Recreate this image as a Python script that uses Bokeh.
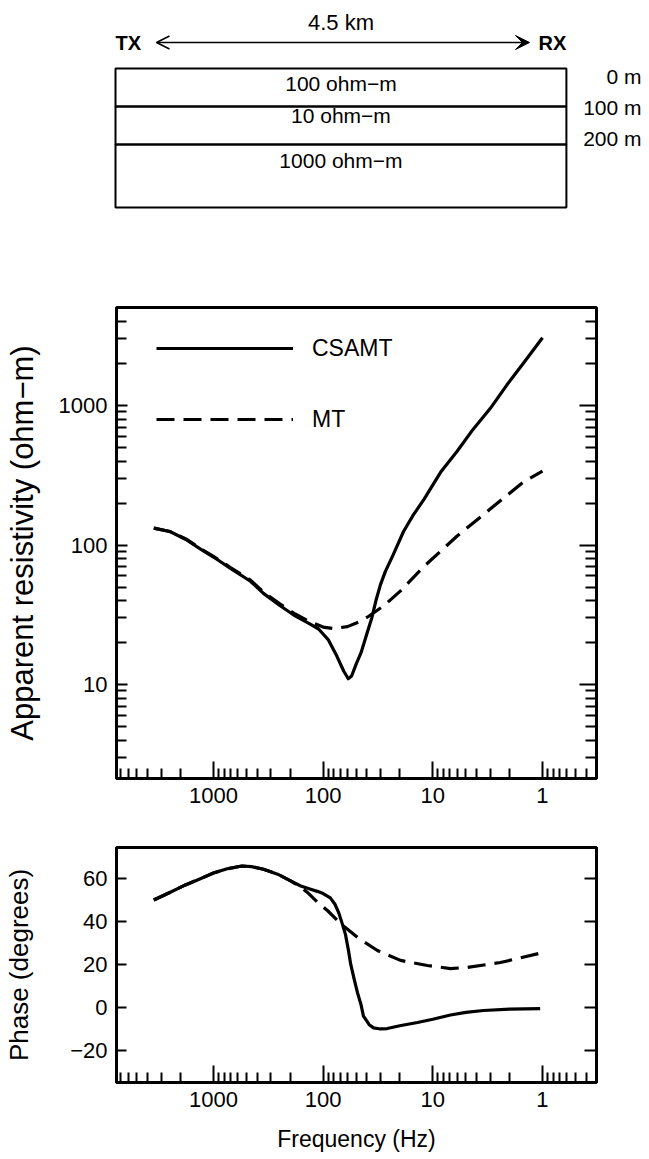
from bokeh.plotting import figure
from bokeh.layouts import column
from bokeh.models import (Range1d, FixedTicker, LogAxis, LinearAxis, Arrow, OpenHead, VeeHead,
                          PrintfTickFormatter, Legend, LegendItem)
from bokeh.core.properties import value
from bokeh.embed import file_html
from bokeh.resources import INLINE

FONT = "Liberation Sans"

# ---------------- data ----------------
# Layered earth model
separation_km = 4.5
layer_tops_m = [0, 100, 200]
layer_bottoms_m = [100, 200, 366]
layer_labels = ["100 ohm\u2212m", "10 ohm\u2212m", "1000 ohm\u2212m"]
depth_labels = ["0 m", "100 m", "200 m"]

# Apparent resistivity (ohm-m) vs frequency (Hz)
freq_rho_csamt = [3500, 2500, 1800, 1300, 1000, 700, 460, 350, 250, 180, 130, 110, 90, 75, 65, 59, 55,
                  50, 45, 40, 36, 33, 30, 27, 23, 18.5, 15, 12, 8.5, 6, 4.3, 3, 2.1, 1.5, 1.0]
rho_csamt = [132, 125, 110, 93, 82, 68, 55, 45, 37, 31, 27, 25, 21, 16, 12.5, 11, 11.5,
             14, 17, 23, 30, 40, 52, 65, 85, 125, 165, 213, 332, 470, 674, 950, 1413, 2000, 3060]

freq_rho_mt = [3500, 2500, 1800, 1300, 1000, 700, 460, 350, 250, 180, 130, 100, 80, 60, 45, 39,
               28, 19.7, 12.2, 6, 3, 1.5, 1.0]
rho_mt = [132, 125, 111, 94, 83, 69, 56, 46, 38, 32, 28, 25.8, 25.2, 26, 28.5, 30.6,
          36.7, 46.9, 69.6, 116, 181, 282, 338]

# Phase (degrees) vs frequency (Hz)
freq_ph_csamt = [3500, 2500, 1800, 1300, 1000, 750, 550, 450, 350, 260, 200, 160, 130, 113, 100, 86,
                 78, 72, 67, 62.6, 59, 56, 52, 48.7, 45, 42.9, 38, 34.7, 30, 26, 20, 13.8, 10,
                 6.9, 5, 3.46, 2, 1.05]
ph_csamt = [50, 53.5, 57, 60, 62.5, 64.5, 65.8, 65.5, 64.3, 62, 59, 56.5, 55, 54, 53, 51,
            48, 44, 39, 34, 27, 20, 13, 7, 1, -4, -8, -9.5, -10, -9.8, -8.5, -7, -5.5,
            -3.5, -2.3, -1.4, -0.8, -0.5]

freq_ph_mt = [3500, 2500, 1800, 1300, 1000, 750, 550, 450, 350, 260, 200, 160, 139, 113, 91.4,
              69.5, 48.7, 32, 19.7, 11.2, 6.9, 4.84, 2.42, 1.0]
ph_mt = [50, 53.5, 57, 60, 62.5, 64.5, 65.8, 65.5, 64.3, 62, 59, 56, 53.5, 49, 45.1,
         39.1, 32.6, 26.5, 21.9, 19.5, 18.1, 18.6, 20.9, 25.5]

# Tick values
freq_major = [1, 10, 100, 1000]
rho_major = [10, 100, 1000]
phase_major = [-20, 0, 20, 40, 60]

minor_log = [k * 10.0 ** e for e in range(-1, 4) for k in range(2, 10)]

# ---------------- layout constants ----------------
W = 649
H1, H2, H3 = 262, 560, 337
BL, BR = 116, 53          # left / right borders of the two chart panels
F_RANGE = (7656, 0.3218)
RHO_RANGE = (2.12, 5040)
PH_RANGE = (-34.9, 74.4)
LW = 3.2
DASH = "18 9"

# ---------------- figure 1: model sketch ----------------
KM_PX = 100.2
BOX_LEFT_PX = 115
M_PX = 0.38
TOP_PX = 68


def km(px):
    return (px - BOX_LEFT_PX) / KM_PX


def dep(py):
    return (py - TOP_PX) / M_PX


p1 = figure(width=W, height=H1, x_axis_type=None, y_axis_type=None,
            x_range=Range1d(km(0), km(W)), y_range=Range1d(dep(H1), dep(0)),
            output_backend="svg", toolbar_location=None, min_border=0,
            min_border_left=0, min_border_right=0, min_border_top=0, min_border_bottom=0)
p1.frame_align = False
p1.outline_line_color = None
p1.xgrid.visible = False
p1.ygrid.visible = False

p1.quad(left=[0] * 3, right=[separation_km] * 3, top=layer_tops_m, bottom=layer_bottoms_m,
        fill_color=None, line_color="black", line_width=2)
p1.text(x=[separation_km / 2] * 3, y=layer_tops_m, text=layer_labels,
        text_align="center", text_baseline="middle", y_offset=[15, 9, 16],
        text_font=value(FONT), text_font_size="21px", text_color="black")
p1.text(x=[km(641)] * 3, y=layer_tops_m, text=depth_labels,
        text_align="right", text_baseline="middle", y_offset=[8, 1, -6],
        text_font=value(FONT), text_font_size="21px", text_color="black")
p1.text(x=[0], y=[dep(42)], text=["TX"], text_align="left", text_baseline="middle",
        text_font=value(FONT), text_font_size="20px", text_font_style="bold", text_color="black")
p1.text(x=[separation_km], y=[dep(42)], text=["RX"], text_align="right", text_baseline="middle",
        text_font=value(FONT), text_font_size="20px", text_font_style="bold", text_color="black")
p1.text(x=[separation_km / 2], y=[dep(22)], text=["%.1f km" % separation_km], text_align="center",
        text_baseline="middle", text_font=value(FONT), text_font_size="22px", text_color="black")
p1.add_layout(Arrow(start=OpenHead(size=13, line_width=1.5, line_color="black"),
                    end=VeeHead(size=14, fill_color="black", line_color="black", line_width=1),
                    x_start=km(156), y_start=dep(42), x_end=km(529), y_end=dep(42),
                    line_width=1.5, line_color="black"))


# ---------------- axis styling helper ----------------
def style_axis(ax, major_in, minor_in, show_labels=True):
    ax.axis_line_width = 3
    ax.axis_line_color = "black"
    ax.major_tick_in = major_in
    ax.major_tick_out = 0
    ax.minor_tick_in = minor_in
    ax.minor_tick_out = 0
    ax.major_tick_line_width = 2
    ax.minor_tick_line_width = 2
    ax.major_tick_line_color = "black"
    ax.minor_tick_line_color = "black" if minor_in > 0 else None
    ax.major_label_standoff = 9 if show_labels else 0
    ax.major_label_text_font = FONT
    ax.major_label_text_color = "black"
    ax.major_label_text_font_size = "22px" if show_labels else "1px"
    if not show_labels:
        ax.major_label_text_alpha = 0
    ax.axis_label_text_font = FONT
    ax.axis_label_text_font_style = "normal"
    ax.axis_label_text_color = "black"


# ---------------- figure 2: apparent resistivity ----------------
p2 = figure(width=W, height=H2, x_axis_type="log", y_axis_type="log",
            x_range=Range1d(*F_RANGE), y_range=Range1d(*RHO_RANGE),
            output_backend="svg", toolbar_location=None,
            min_border_left=BL, min_border_right=BR, min_border_top=45, min_border_bottom=44)
p2.xgrid.visible = False
p2.ygrid.visible = False
p2.outline_line_color = "black"
p2.outline_line_width = 3

r1 = p2.line(freq_rho_csamt, rho_csamt, line_color="black", line_width=LW, line_join="round")
r2 = p2.line(freq_rho_mt, rho_mt, line_color="black", line_width=LW, line_dash=DASH)

p2.xaxis.ticker = FixedTicker(ticks=freq_major, minor_ticks=minor_log)
p2.xaxis.formatter = PrintfTickFormatter(format="%d")
style_axis(p2.xaxis[0], 17, 10)

p2.yaxis.ticker = FixedTicker(ticks=rho_major, minor_ticks=minor_log)
p2.yaxis.formatter = PrintfTickFormatter(format="%d")
style_axis(p2.yaxis[0], 11, 10)
p2.yaxis.axis_label = "Apparent resistivity (ohm\u2212m)"
p2.yaxis.axis_label_text_font_size = "31px"
p2.yaxis.axis_label_standoff = 16

ry = LogAxis(ticker=FixedTicker(ticks=rho_major, minor_ticks=minor_log),
             formatter=PrintfTickFormatter(format="%d"))
style_axis(ry, 17, 11, show_labels=False)
p2.add_layout(ry, "right")

legend = Legend(items=[LegendItem(label="CSAMT", renderers=[r1]),
                       LegendItem(label="MT", renderers=[r2])],
                location=(40, 344), orientation="vertical",
                glyph_width=137, glyph_height=30, label_height=30, spacing=41,
                padding=0, margin=0, label_standoff=19,
                border_line_color=None, background_fill_alpha=0,
                label_text_font=FONT, label_text_font_size="23px", label_text_color="black")
p2.add_layout(legend, "center")

# ---------------- figure 3: phase ----------------
p3 = figure(width=W, height=H3, x_axis_type="log",
            x_range=Range1d(*F_RANGE), y_range=Range1d(*PH_RANGE),
            output_backend="svg", toolbar_location=None,
            min_border_left=BL, min_border_right=BR, min_border_top=25, min_border_bottom=77)
p3.xgrid.visible = False
p3.ygrid.visible = False
p3.outline_line_color = "black"
p3.outline_line_width = 3

p3.line(freq_ph_csamt, ph_csamt, line_color="black", line_width=LW, line_join="round")
p3.line(freq_ph_mt, ph_mt, line_color="black", line_width=LW, line_dash=DASH)

p3.xaxis.ticker = FixedTicker(ticks=freq_major, minor_ticks=minor_log)
p3.xaxis.formatter = PrintfTickFormatter(format="%d")
style_axis(p3.xaxis[0], 17, 10)
p3.xaxis.axis_label = "Frequency (Hz)"
p3.xaxis.axis_label_text_font_size = "23px"
p3.xaxis.axis_label_standoff = 16

p3.yaxis.ticker = FixedTicker(ticks=phase_major)
p3.yaxis.formatter = PrintfTickFormatter(format="%d")
p3.yaxis.major_label_overrides = {-20: "\u221220"}
style_axis(p3.yaxis[0], 10, 0)
p3.yaxis.axis_label = "Phase (degrees)"
p3.yaxis.axis_label_text_font_size = "26px"
p3.yaxis.axis_label_standoff = 33

ph_right = LinearAxis(ticker=FixedTicker(ticks=phase_major), formatter=PrintfTickFormatter(format="%d"))
style_axis(ph_right, 12, 0, show_labels=False)
p3.add_layout(ph_right, "right")

layout = column(p1, p2, p3, spacing=0)
open("out.html", "w").write(file_html(layout, INLINE))
